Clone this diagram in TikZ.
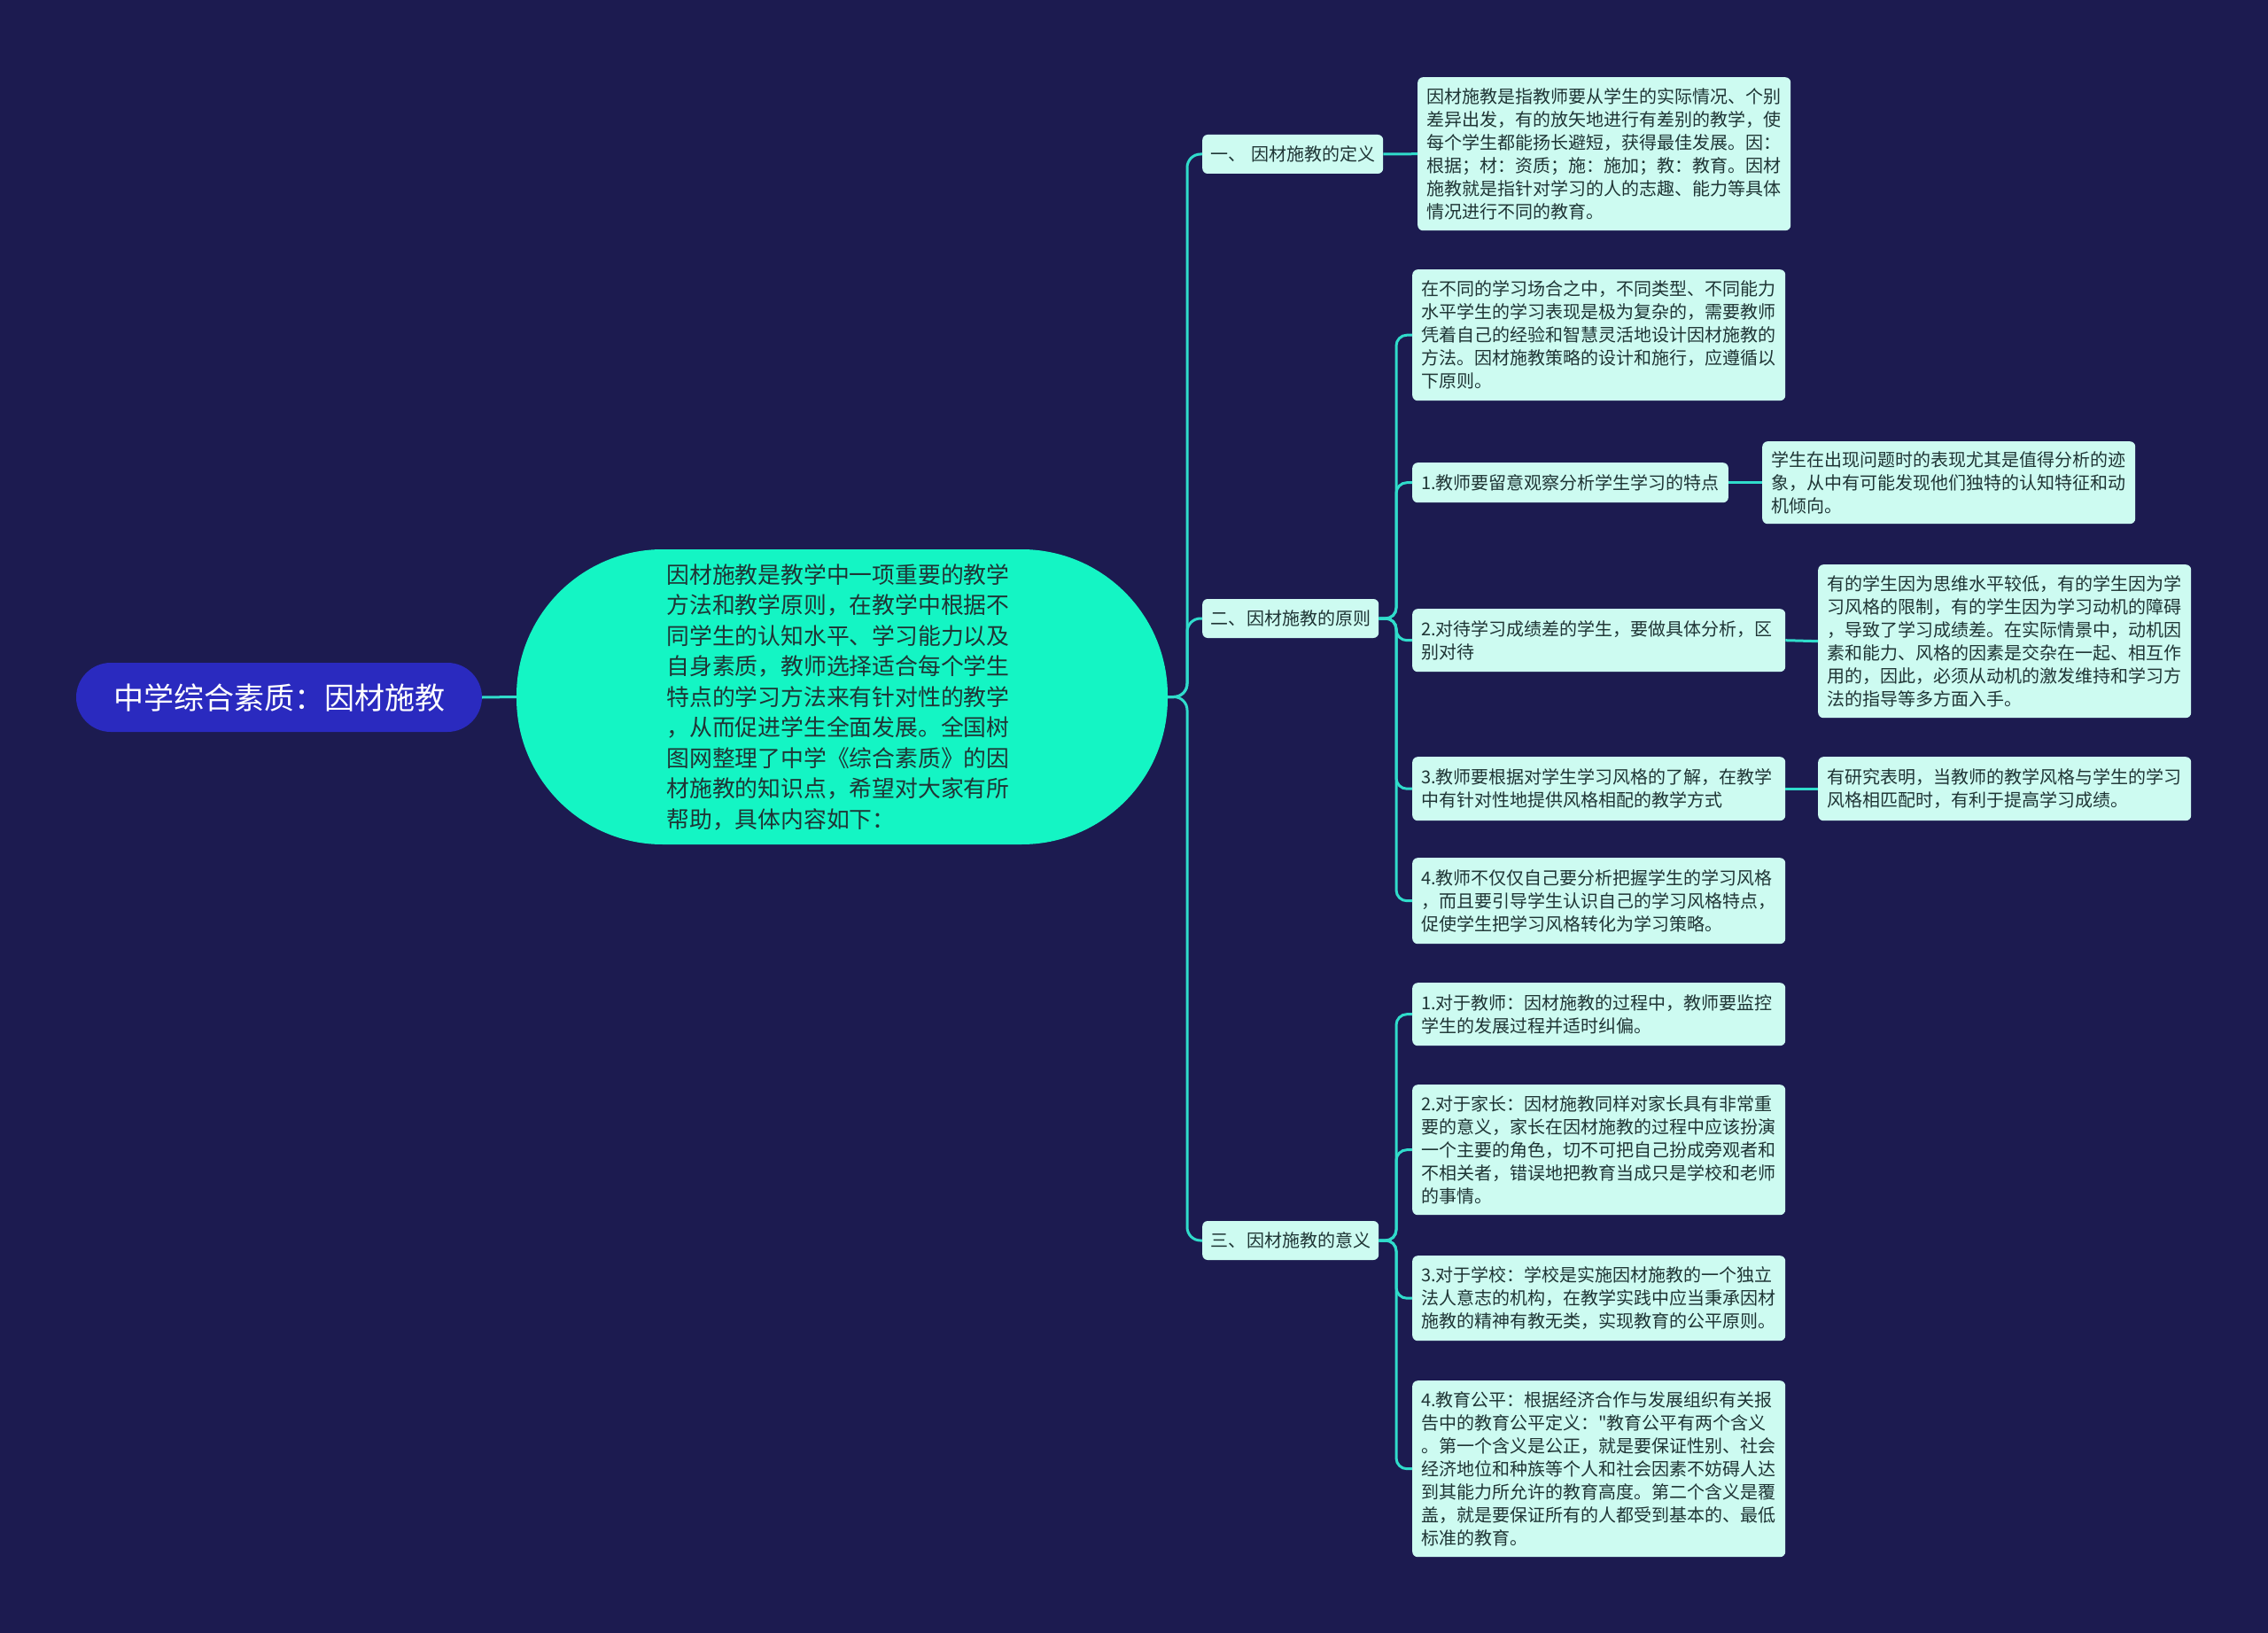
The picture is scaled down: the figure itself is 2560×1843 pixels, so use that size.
\documentclass[tikz,border=0pt]{standalone}
\usepackage{fontspec}
\newfontfamily\cjk{Noto Sans CJK SC}
\definecolor{bg}{HTML}{1C1B50}
\definecolor{rootc}{HTML}{2A2ABF}
\definecolor{centc}{HTML}{14F5C4}
\definecolor{mint}{HTML}{CDFBF1}
\definecolor{ink}{HTML}{1F3535}
\definecolor{linec}{HTML}{30DCCB}
\begin{document}
\begin{tikzpicture}[x=1pt,y=-1pt,
  conn/.style={draw=linec, line width=3pt, rounded corners=15pt},
  box/.style={fill=mint, text=ink, rounded corners=6pt, align=left, inner xsep=10pt, inner ysep=0pt,
    font=\cjk\fontsize{20}{26}\selectfont, anchor=north west},
  wbox/.style={box, text width=401pt},
  lone/.style={box, align=center, anchor=west, minimum height=44pt, inner xsep=8pt}]
\fill[bg] (0,0) rectangle (2560,1843);
\useasboundingbox (0,0) rectangle (2560,1843);

% root
\node[fill=rootc, text=white, rounded corners=39pt, minimum width=458pt, minimum height=78pt,
  font=\cjk\fontsize{34}{40}\selectfont] (root) at (315,787) {中学综合素质：因材施教};

% center
\node[fill=centc, text=ink, rounded corners=165pt, minimum width=735pt, minimum height=333pt,
  align=left, text width=396pt, inner xsep=0pt,
  font=\cjk\fontsize{25.8}{34.5}\selectfont] (cen) at (950.5,786.5)
  {因材施教是教学中一项重要的教学\\方法和教学原则，在教学中根据不\\同学生的认知水平、学习能力以及\\自身素质，教师选择适合每个学生\\特点的学习方法来有针对性的教学\\，从而促进学生全面发展。全国树\\图网整理了中学《综合素质》的因\\材施教的知识点，希望对大家有所\\帮助，具体内容如下：};

% level 1
\node[lone, minimum width=204pt] (la) at (1357,174) {一、\hspace{6pt}因材施教的定义};
\node[lone, minimum width=199pt] (lb) at (1357,698) {二、\hspace{1pt}因材施教的原则};
\node[lone, minimum width=199pt] (lc) at (1357,1400) {三、\hspace{1pt}因材施教的意义};

% definition
\node[wbox, minimum height=173pt] (def) at (1600,87)
  {因材施教是指教师要从学生的实际情况、个别\\差异出发，有的放矢地进行有差别的教学，使\\每个学生都能扬长避短，获得最佳发展。因：\\根据；材：资质；施：施加；教：教育。因材\\施教就是指针对学习的人的志趣、能力等具体\\情况进行不同的教育。};

% principles
\node[wbox, minimum height=148pt] (pi) at (1594,304)
  {在不同的学习场合之中，不同类型、不同能力\\水平学生的学习表现是极为复杂的，需要教师\\凭着自己的经验和智慧灵活地设计因材施教的\\方法。因材施教策略的设计和施行，应遵循以\\下原则。};
\node[box, minimum height=45pt] (p1) at (1594,522) {1.教师要留意观察分析学生学习的特点};
\node[wbox, minimum height=93pt] (p1l) at (1989,498)
  {学生在出现问题时的表现尤其是值得分析的迹\\象，从中有可能发现他们独特的认知特征和动\\机倾向。};
\node[wbox, minimum height=71pt] (p2) at (1594,687)
  {2.对待学习成绩差的学生，要做具体分析，区\\别对待};
\node[wbox, minimum height=173pt] (p2l) at (2052,637)
  {有的学生因为思维水平较低，有的学生因为学\\习风格的限制，有的学生因为学习动机的障碍\\，导致了学习成绩差。在实际情景中，动机因\\素和能力、风格的因素是交杂在一起、相互作\\用的，因此，必须从动机的激发维持和学习方\\法的指导等多方面入手。};
\node[wbox, minimum height=72pt] (p3) at (1594,854)
  {3.教师要根据对学生学习风格的了解，在教学\\中有针对性地提供风格相配的教学方式};
\node[wbox, minimum height=72pt] (p3l) at (2052,854)
  {有研究表明，当教师的教学风格与学生的学习\\风格相匹配时，有利于提高学习成绩。};
\node[wbox, minimum height=97pt] (p4) at (1594,968)
  {4.教师不仅仅自己要分析把握学生的学习风格\\，而且要引导学生认识自己的学习风格特点，\\促使学生把学习风格转化为学习策略。};

% significance
\node[wbox, minimum height=71pt] (s1) at (1594,1109)
  {1.对于教师：因材施教的过程中，教师要监控\\学生的发展过程并适时纠偏。};
\node[wbox, minimum height=147pt] (s2) at (1594,1224)
  {2.对于家长：因材施教同样对家长具有非常重\\要的意义，家长在因材施教的过程中应该扮演\\一个主要的角色，切不可把自己扮成旁观者和\\不相关者，错误地把教育当成只是学校和老师\\的事情。};
\node[wbox, minimum height=96pt] (s3) at (1594,1417)
  {3.对于学校：学校是实施因材施教的一个独立\\法人意志的机构，在教学实践中应当秉承因材\\施教的精神有教无类，实现教育的公平原则。};
\node[wbox, minimum height=199pt] (s4) at (1594,1558)
  {4.教育公平：根据经济合作与发展组织有关报\\告中的教育公平定义："教育公平有两个含义\\。第一个含义是公正，就是要保证性别、社会\\经济地位和种族等个人和社会因素不妨碍人达\\到其能力所允许的教育高度。第二个含义是覆\\盖，就是要保证所有的人都受到基本的、最低\\标准的教育。};

% connectors
\draw[conn] (root.east) -- (cen.west);
\draw[conn] (cen.east) -- (1340,786.5) |- (la.west);
\draw[conn] (cen.east) -- (1340,786.5) |- (lb.west);
\draw[conn] (cen.east) -- (1340,786.5) |- (lc.west);
\draw[conn] (la.east) -- (def.west);
\foreach \c in {pi,p1,p2,p3,p4}
  \draw[conn, rounded corners=12pt] (lb.east) -- (1576,698) |- (\c.west);
\foreach \c in {s1,s2,s3,s4}
  \draw[conn, rounded corners=12pt] (lc.east) -- (1576,1400) |- (\c.west);
\draw[conn] (p1.east) -- (p1l.west);
\draw[conn] (p2.east) -- (p2l.west);
\draw[conn] (p3.east) -- (p3l.west);
\end{tikzpicture}
\end{document}
